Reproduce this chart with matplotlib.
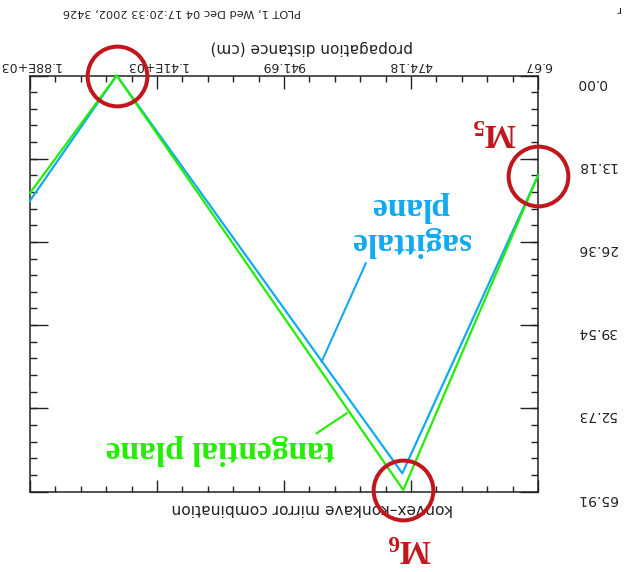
import numpy as np
import matplotlib
matplotlib.use("Agg")
import matplotlib.pyplot as plt
from matplotlib.ticker import FixedLocator
from matplotlib.transforms import ScaledTranslation

# Beam size along the propagation path (tangential / sagittal planes)
dist_tan = [1876.7, 1557.6, 502.6, 6.67]
beam_tan = [18.62, 0.0, 65.67, 15.88]
dist_sag = [1876.7, 1557.6, 506.2, 6.67]
beam_sag = [19.84, 0.0, 63.03, 15.88]

# Mirror positions marked with rings
mirror_dist = [1557.6, 502.6, 6.67]
mirror_beam = [0.0, 65.67, 15.88]

x_ticks = [6.67, 474.18, 941.69, 1409.2, 1876.7]
x_ticklabels = ["6.67", "474.18", "941.69", "1.41E+03", "1.88E+03"]
y_ticks = [0.0, 13.18, 26.36, 39.54, 52.73, 65.91]
y_ticklabels = ["0.00", "13.18", "26.36", "39.54", "52.73", "65.91"]

GREEN = "#22ee00"
BLUE = "#11aaee"
RED = "#c0171c"
INK = "#222222"

plt.rcParams["mathtext.fontset"] = "custom"
plt.rcParams["mathtext.bf"] = "Liberation Serif:bold"
plt.rcParams["mathtext.rm"] = "Liberation Serif"

fig = plt.figure(figsize=(6.24, 5.72), dpi=100)
ax = fig.add_axes([30 / 624, 80.5 / 572, 508 / 624, 416 / 572])

# whole sheet is turned upside down
ax.set_xlim(x_ticks[-1], x_ticks[0])
ax.set_ylim(y_ticks[-1], y_ticks[0])

ax.plot(dist_sag, beam_sag, color=BLUE, lw=1.6, clip_on=False, zorder=3)
ax.plot(dist_tan, beam_tan, color=GREEN, lw=1.6, clip_on=False, zorder=4)
ax.plot(mirror_dist, mirror_beam, ls="none", marker="o", ms=43,
        mfc="none", mec=RED, mew=2.9, clip_on=False, zorder=5)

# ticks
ax.xaxis.set_major_locator(FixedLocator(x_ticks))
ax.xaxis.set_minor_locator(FixedLocator(np.linspace(x_ticks[0], x_ticks[-1], 21)))
ax.yaxis.set_major_locator(FixedLocator(y_ticks))
ax.yaxis.set_minor_locator(FixedLocator(np.linspace(y_ticks[0], y_ticks[-1], 26)))
ax.set_xticklabels(x_ticklabels)
ax.set_yticklabels(y_ticklabels)

ax.tick_params(which="both", direction="in", top=True, bottom=True,
               left=True, right=True, labeltop=True, labelbottom=False,
               labelright=True, labelleft=False, colors=INK,
               labelcolor=INK)
ax.tick_params(axis="x", which="major", length=9, width=1.0, pad=2.5, labelsize=9)
ax.tick_params(axis="x", which="minor", length=4.5, width=1.0)
ax.tick_params(axis="y", which="major", length=13, width=1.0, pad=28, labelsize=10)
ax.tick_params(axis="y", which="minor", length=5, width=1.0)
for lab in ax.get_xticklabels():
    lab.set_rotation(180)
for lab in ax.get_yticklabels():
    lab.set_rotation(180)
    lab.set_transform(lab.get_transform() +
                      ScaledTranslation(0, -4 / 72, fig.dpi_scale_trans))
for sp in ax.spines.values():
    sp.set_linewidth(1.1)
    sp.set_color(INK)

ax.set_xlabel("propagation distance (cm)", fontsize=11, rotation=180,
              color=INK, labelpad=5)
ax.xaxis.set_label_position("top")
ax.xaxis.label.set_x(0.555)

ax.text(0.555, -0.04, "konvex\u2013konkave mirror combination", transform=ax.transAxes,
        rotation=180, ha="center", va="center", fontsize=11.2, color=INK)
fig.text(182 / 624, 1 - 12 / 572, "PLOT 1, Wed Dec 04 17:20:33 2002, 3426",
         rotation=180, ha="center", va="center", fontsize=8.2, color=INK)
fig.text(618 / 624, 1 - 9 / 572, "r", rotation=180, ha="center", va="center",
         fontsize=8, color=INK)

# plane labels with leader lines
serif_bold = dict(family="Liberation Serif", weight="bold", fontsize=24)
ax.text(0.75, 0.643, "sagittale\nplane", transform=ax.transAxes, rotation=180,
        ha="center", va="center", multialignment="center", color=BLUE,
        linespacing=1.2, **serif_bold)
ax.plot([0.661, 0.574], [0.5486, 0.312], transform=ax.transAxes, color=BLUE,
        lw=1.5, clip_on=False)
ax.text(0.374, 0.0998, "tangential plane", transform=ax.transAxes, rotation=180,
        ha="center", va="center", color=GREEN, **serif_bold)
ax.plot([0.6234, 0.5644], [0.188, 0.140], transform=ax.transAxes, color=GREEN,
        lw=1.5, clip_on=False)

# mirror names
ax.text(0.915, 0.862, r"$\mathbf{M}_{\mathbf{5}}$", transform=ax.transAxes,
        rotation=180, ha="center", va="center", color=RED, fontsize=24)
ax.text(0.748, -0.136, r"$\mathbf{M}_{\mathbf{6}}$", transform=ax.transAxes,
        rotation=180, ha="center", va="center", color=RED, fontsize=24)

fig.savefig("out.png", dpi=100)
